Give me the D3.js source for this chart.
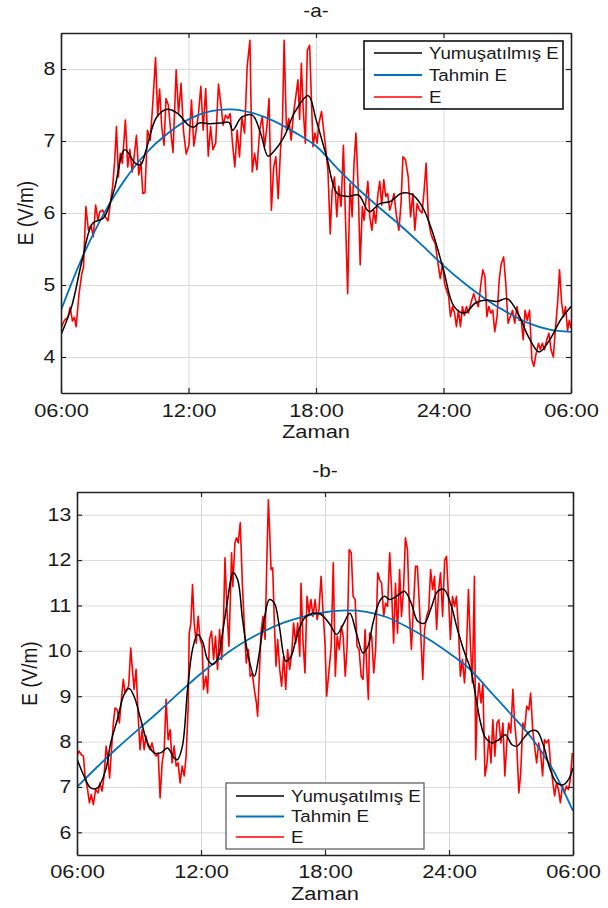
<!DOCTYPE html>
<html>
<head>
<meta charset="utf-8">
<script src="https://cdn.jsdelivr.net/npm/d3@7"></script>
<style>
  body { margin: 0; background: #fff; }
  text { font-family: Arial, "Liberation Sans", sans-serif; fill: #1a1a1a; }
</style>
</head>
<body>
<script>
// zaman ekseni (saat, 06:00 -> ertesi gün 06:00)
const xTicks = [6, 12, 18, 24, 30];
const xTickLabels = ["06:00", "12:00", "18:00", "24:00", "06:00"];
const yTicksA = [4, 5, 6, 7, 8];
const yTicksB = [6, 7, 8, 9, 10, 11, 12, 13];
const legendLabels = ["Yumuşatılmış E", "Tahmin E", "E"];
const seriesColors = ["#000000", "#0072bd", "#ff0000"];

// -a- ölçülen E [saat, V/m]
const redA = [
  [6.00,4.40],[6.16,4.51],[6.32,4.55],[6.43,4.69],[6.54,4.50],[6.63,4.55],[6.71,4.42],[6.85,4.88],[6.98,5.16],[7.06,5.25],
  [7.17,6.09],[7.29,5.76],[7.41,5.83],[7.52,5.67],[7.63,6.11],[7.74,5.90],[7.83,6.02],[7.96,6.04],[8.08,5.95],[8.21,5.89],
  [8.32,6.13],[8.43,6.37],[8.53,6.74],[8.61,7.20],[8.70,6.50],[8.79,6.83],[8.89,6.69],[9.03,7.29],[9.14,6.64],[9.24,6.88],
  [9.35,6.57],[9.44,6.78],[9.55,7.08],[9.66,6.53],[9.76,6.71],[9.85,6.27],[9.95,6.28],[10.07,7.15],[10.20,7.01],[10.31,7.48],
  [10.45,8.16],[10.55,7.34],[10.64,7.72],[10.74,7.20],[10.85,6.94],[10.94,7.59],[11.05,7.50],[11.16,7.15],[11.27,6.84],[11.42,7.99],
  [11.53,7.38],[11.65,7.80],[11.76,7.15],[11.89,6.82],[12.02,6.94],[12.14,7.57],[12.25,6.93],[12.36,7.15],[12.47,7.38],[12.58,7.76],
  [12.69,7.15],[12.81,7.73],[12.93,6.79],[13.04,7.20],[13.15,6.88],[13.28,6.97],[13.41,7.79],[13.52,7.52],[13.63,7.22],[13.74,7.36],
  [13.85,7.31],[13.96,7.38],[14.07,6.97],[14.18,6.64],[14.29,7.15],[14.40,6.78],[14.51,7.33],[14.64,7.11],[14.76,8.03],[14.89,8.40],
  [15.00,6.57],[15.11,6.83],[15.22,6.60],[15.35,7.15],[15.47,7.34],[15.58,6.92],[15.69,7.20],[15.79,7.59],[15.90,6.04],[16.01,6.64],
  [16.11,6.78],[16.22,6.20],[16.33,6.88],[16.42,7.25],[16.50,8.40],[16.61,7.15],[16.72,7.31],[16.83,7.01],[16.94,7.38],[17.05,7.62],
  [17.15,7.85],[17.23,7.30],[17.31,8.08],[17.40,7.43],[17.50,6.97],[17.59,8.26],[17.70,8.33],[17.78,7.62],[17.86,6.92],[17.95,7.11],
  [18.05,6.97],[18.14,7.25],[18.26,7.41],[18.36,7.15],[18.45,6.92],[18.56,6.60],[18.67,5.71],[18.76,6.32],[18.87,6.50],[18.98,5.95],
  [19.07,6.37],[19.18,6.09],[19.29,6.94],[19.38,6.00],[19.49,4.88],[19.60,6.41],[19.70,5.95],[19.79,6.69],[19.88,7.11],[19.99,6.32],
  [20.08,5.28],[20.18,6.09],[20.26,5.90],[20.35,6.18],[20.44,6.44],[20.53,5.95],[20.63,5.76],[20.72,6.04],[20.81,5.86],[20.91,6.25],
  [21.00,6.44],[21.09,6.11],[21.19,6.46],[21.28,6.23],[21.37,6.27],[21.47,6.04],[21.56,6.13],[21.67,6.27],[21.78,5.97],[21.90,5.76],
  [22.00,6.13],[22.09,6.78],[22.21,6.74],[22.34,6.50],[22.45,5.95],[22.56,6.27],[22.65,5.76],[22.76,6.13],[22.87,6.04],[22.99,6.00],
  [23.09,6.32],[23.18,6.69],[23.29,5.90],[23.40,5.72],[23.51,5.63],[23.61,5.58],[23.74,5.30],[23.85,5.09],[23.96,5.30],[24.05,5.02],
  [24.14,4.93],[24.24,4.84],[24.33,4.56],[24.42,4.70],[24.52,4.61],[24.61,4.42],[24.70,4.65],[24.80,4.42],[24.89,4.70],[24.98,4.58],
  [25.08,4.70],[25.17,4.61],[25.29,4.75],[25.42,4.88],[25.51,4.79],[25.64,4.70],[25.76,5.02],[25.85,5.21],[25.95,5.12],[26.04,4.56],
  [26.13,4.70],[26.23,4.61],[26.32,4.65],[26.41,4.35],[26.52,4.56],[26.62,5.07],[26.72,5.30],[26.83,5.39],[26.93,5.02],[27.04,4.47],
  [27.14,4.56],[27.25,4.65],[27.35,4.47],[27.46,4.70],[27.56,4.51],[27.66,4.51],[27.75,4.24],[27.84,4.65],[27.94,4.51],[28.05,4.65],
  [28.16,3.96],[28.25,3.87],[28.36,4.05],[28.47,4.19],[28.56,4.10],[28.65,4.19],[28.75,4.10],[28.86,4.24],[28.96,4.33],[29.06,4.10],
  [29.17,4.00],[29.26,4.37],[29.37,4.75],[29.46,5.21],[29.56,4.75],[29.65,4.56],[29.74,4.70],[29.84,4.37],[29.92,4.51],[30.00,4.40]
];
// -a- yumuşatılmış E
const blackA = [
  [6,4.31],[6.5,4.70],[7,5.35],[7.5,5.86],[8,5.93],[8.5,6.32],[9,6.88],[9.5,6.69],[9.75,6.67],[10,6.87],
  [10.5,7.33],[11,7.44],[11.5,7.38],[12,7.22],[12.25,7.19],[12.5,7.25],[13,7.24],[13.5,7.25],[13.9,7.26],[14.08,7.15],
  [14.5,7.33],[15,7.36],[15.4,7.10],[15.74,6.79],[16,6.85],[16.5,7.06],[17,7.40],[17.64,7.63],[18,7.30],[18.5,6.78],
  [19,6.27],[19.5,6.23],[20,6.25],[20.5,6.02],[21,6.13],[21.5,6.16],[22,6.27],[22.5,6.26],[23,6.09],[23.5,5.72],
  [24,5.21],[24.5,4.70],[25,4.61],[25.5,4.75],[26,4.79],[26.5,4.77],[27,4.81],[27.5,4.61],[28,4.28],[28.5,4.07],
  [29,4.24],[29.5,4.51],[30,4.70]
];
// -a- tahmin E
const blueA = [
  [6,4.65],[7,5.38],[8,5.98],[9,6.46],[10,6.83],[11,7.10],[12,7.30],[13,7.41],[14,7.44],[15,7.39],
  [16,7.28],[17,7.12],[18,6.93],[19,6.62],[20,6.33],[21,6.07],[22,5.82],[23,5.55],[24,5.27],[25,5.02],
  [26,4.80],[27,4.62],[28,4.47],[29,4.38],[30,4.35]
];

// -b- ölçülen E
const redB = [
  [6.00,7.68],[6.10,7.79],[6.21,7.71],[6.31,7.68],[6.39,7.24],[6.50,6.98],[6.60,6.65],[6.69,6.83],[6.79,6.61],[6.90,6.94],
  [7.02,6.87],[7.11,7.09],[7.21,6.91],[7.31,7.24],[7.41,7.90],[7.50,7.60],[7.58,7.20],[7.68,7.90],[7.76,8.41],[7.84,8.74],
  [7.95,8.70],[8.05,8.41],[8.15,8.93],[8.24,9.37],[8.33,9.07],[8.41,9.15],[8.50,9.22],[8.60,10.06],[8.68,9.59],[8.76,9.15],
  [8.86,9.59],[8.96,8.56],[9.05,7.82],[9.15,8.26],[9.25,7.82],[9.34,8.12],[9.44,7.90],[9.54,7.82],[9.63,7.97],[9.73,7.75],
  [9.83,7.68],[9.93,7.75],[10.02,6.76],[10.12,7.53],[10.22,7.82],[10.31,8.93],[10.41,8.04],[10.51,8.26],[10.60,7.53],[10.70,7.90],
  [10.80,7.46],[10.89,7.53],[10.99,7.09],[11.09,7.46],[11.19,7.24],[11.28,7.68],[11.38,8.78],[11.43,10.39],[11.51,10.61],[11.59,11.46],
  [11.67,10.61],[11.77,10.17],[11.86,10.76],[11.96,10.25],[12.06,10.10],[12.12,9.15],[12.24,9.44],[12.32,9.07],[12.41,10.25],[12.51,10.43],
  [12.61,9.81],[12.70,10.32],[12.80,9.59],[12.90,10.47],[13.00,9.81],[13.09,10.69],[13.16,12.05],[13.25,10.98],[13.35,10.10],[13.42,11.13],
  [13.48,12.16],[13.54,11.42],[13.64,12.38],[13.72,12.49],[13.80,12.38],[13.90,12.82],[14.00,11.49],[14.09,10.61],[14.19,9.73],[14.29,10.03],
  [14.38,9.44],[14.48,9.51],[14.58,9.15],[14.68,8.85],[14.74,8.56],[14.82,9.44],[14.90,10.39],[15.00,10.76],[15.10,10.25],[15.19,12.08],
  [15.26,13.33],[15.32,12.67],[15.39,11.79],[15.47,11.83],[15.55,10.61],[15.63,9.66],[15.71,10.25],[15.81,9.59],[15.90,9.22],[16.00,9.88],
  [16.10,9.15],[16.19,10.03],[16.29,9.59],[16.39,9.95],[16.48,10.61],[16.58,10.17],[16.68,10.61],[16.78,9.88],[16.84,11.49],[16.94,10.17],
  [17.03,9.51],[17.13,11.20],[17.23,10.83],[17.32,11.13],[17.42,10.76],[17.52,11.13],[17.62,10.69],[17.71,10.91],[17.81,11.64],[17.91,10.83],
  [18.00,10.17],[18.08,9.00],[18.30,10.10],[18.40,11.94],[18.50,9.44],[18.59,10.32],[18.69,10.03],[18.79,10.54],[18.88,10.32],[18.98,9.44],
  [19.07,10.10],[19.17,12.23],[19.27,12.16],[19.36,11.20],[19.46,11.13],[19.55,10.10],[19.65,10.03],[19.75,9.44],[19.84,9.37],[19.94,10.47],
  [20.04,9.44],[20.10,8.93],[20.16,10.39],[20.26,10.32],[20.36,9.51],[20.45,10.03],[20.55,11.72],[20.64,11.57],[20.74,11.49],[20.84,10.76],
  [20.93,11.05],[21.03,10.98],[21.13,12.16],[21.22,11.35],[21.32,10.17],[21.41,11.49],[21.51,10.39],[21.61,11.79],[21.70,10.76],[21.80,11.35],
  [21.89,12.49],[21.99,12.23],[22.09,10.76],[22.18,10.03],[22.28,10.98],[22.38,11.86],[22.47,11.86],[22.57,10.98],[22.66,10.10],[22.73,9.37],
  [22.82,10.47],[22.92,10.76],[23.02,10.91],[23.11,11.79],[23.21,11.35],[23.30,11.64],[23.40,10.47],[23.50,11.35],[23.59,11.72],[23.69,10.76],
  [23.79,12.00],[23.88,12.08],[23.98,11.13],[24.07,10.25],[24.17,11.20],[24.27,10.98],[24.36,11.20],[24.46,10.47],[24.55,9.44],[24.65,9.81],
  [24.75,9.29],[24.84,9.95],[24.94,11.35],[25.04,10.10],[25.13,9.29],[25.23,11.64],[25.29,7.60],[25.37,8.85],[25.45,9.29],[25.55,8.85],
  [25.64,9.29],[25.74,7.24],[25.84,7.53],[25.93,8.12],[26.03,7.53],[26.12,8.48],[26.22,7.68],[26.32,8.41],[26.41,8.48],[26.51,7.97],
  [26.61,8.41],[26.70,7.24],[26.80,7.97],[26.89,8.41],[26.99,8.19],[27.09,9.15],[27.18,8.41],[27.28,7.90],[27.38,6.87],[27.47,7.31],
  [27.57,8.41],[27.66,8.26],[27.76,8.78],[27.86,8.70],[27.95,9.07],[28.05,8.26],[28.14,7.90],[28.24,7.53],[28.34,7.97],[28.43,7.75],
  [28.53,7.24],[28.62,8.04],[28.72,7.97],[28.82,8.04],[28.91,7.53],[29.01,7.16],[29.11,6.80],[29.20,7.09],[29.30,6.94],[29.39,6.65],
  [29.49,7.02],[29.59,6.87],[29.68,7.02],[29.78,6.94],[29.87,7.16],[29.97,7.75]
];
// -b- yumuşatılmış E
const blackB = [
  [6,7.62],[6.34,7.24],[6.66,6.98],[6.99,6.98],[7.39,7.38],[7.63,7.97],[7.95,8.48],[8.28,9.04],[8.52,9.17],[8.76,9.00],
  [9.09,8.48],[9.41,7.97],[9.73,7.75],[10.05,7.75],[10.38,7.86],[10.70,7.64],[10.86,7.60],[11.10,7.90],[11.35,9.15],[11.59,10.03],
  [11.83,10.36],[12.07,10.21],[12.32,9.81],[12.56,9.70],[12.80,9.81],[13.04,10.39],[13.29,11.13],[13.55,11.72],[13.77,11.57],[14.01,10.69],
  [14.26,9.95],[14.58,9.44],[14.82,9.95],[15.06,10.69],[15.31,11.13],[15.55,11.05],[15.79,10.54],[16.11,9.77],[16.36,9.88],[16.60,10.25],
  [17.00,10.72],[17.41,10.83],[17.81,10.80],[18.24,10.58],[18.56,10.36],[18.88,10.58],[19.20,10.83],[19.52,10.39],[19.84,9.95],[20.08,10.10],
  [20.32,10.61],[20.64,11.09],[20.88,11.20],[21.13,11.13],[21.45,11.20],[21.85,11.31],[22.17,11.05],[22.49,10.65],[22.81,10.61],[23.13,10.94],
  [23.45,11.31],[23.77,11.35],[24.09,11.02],[24.41,10.47],[24.73,9.99],[25.05,9.59],[25.29,9.00],[25.53,8.41],[25.77,8.08],[26.09,7.97],
  [26.41,8.04],[26.73,8.15],[27.05,7.93],[27.29,7.90],[27.62,8.08],[27.94,8.23],[28.26,8.23],[28.58,7.90],[28.90,7.38],[29.22,7.09],
  [29.54,7.05],[29.78,7.16],[30,7.42]
];
// -b- tahmin E
const blueB = [
  [6,7.00],[7,7.45],[8,7.88],[9,8.28],[10,8.68],[11,9.10],[12,9.50],[13,9.86],[14,10.17],[15,10.42],
  [16,10.62],[17,10.76],[18,10.85],[19,10.89],[20,10.86],[21,10.74],[22,10.52],[23,10.26],[24,9.95],[25,9.60],
  [26,9.10],[27,8.60],[28,8.08],[29,7.40],[30,6.47]
];

const W = 608, H = 908;
const SX = 1.15; // resimdeki yazılar yatayda biraz gergin

const svg = d3.select("body")
    .append("svg")
    .attr("width", W)
    .attr("height", H);

function drawPanel(p) {
    const x = d3.scaleLinear().domain([6, 30]).range([p.left, p.right]);
    const y = d3.scaleLinear().domain(p.yDomain).range([p.bottom, p.top]);
    const g = svg.append("g");
    const h = p.bottom - p.top, w = p.right - p.left;

    // ızgara
    g.append("g")
        .attr("transform", `translate(0,${p.bottom})`)
        .call(d3.axisBottom(x).tickValues(xTicks).tickSize(-h).tickFormat(""))
        .call(a => a.select(".domain").remove())
        .selectAll("line").attr("stroke", "#dadada");
    g.append("g")
        .attr("transform", `translate(${p.left},0)`)
        .call(d3.axisLeft(y).tickValues(p.yTicks).tickSize(-w).tickFormat(""))
        .call(a => a.select(".domain").remove())
        .selectAll("line").attr("stroke", "#dadada");

    // çizgiler
    g.append("clipPath").attr("id", "clip" + p.id)
        .append("rect").attr("x", p.left).attr("y", p.top).attr("width", w).attr("height", h);
    const plot = g.append("g").attr("clip-path", `url(#clip${p.id})`);
    const line = d3.line().x(d => x(d[0])).y(d => y(d[1]));
    const smooth = d3.line().x(d => x(d[0])).y(d => y(d[1])).curve(d3.curveCatmullRom.alpha(0.5));

    plot.append("path").datum(p.red).attr("d", line)
        .attr("fill", "none").attr("stroke", seriesColors[2]).attr("stroke-width", 1.6).attr("stroke-linejoin", "round");
    plot.append("path").datum(p.blue).attr("d", smooth)
        .attr("fill", "none").attr("stroke", seriesColors[1]).attr("stroke-width", 1.8);
    plot.append("path").datum(p.black).attr("d", smooth)
        .attr("fill", "none").attr("stroke", seriesColors[0]).attr("stroke-width", 1.5);

    // eksenler (içe dönük çentikler)
    const styleAxis = a => {
        a.select(".domain").attr("stroke", "#222").attr("stroke-width", 1.6);
        a.selectAll(".tick line").attr("stroke", "#222").attr("stroke-width", 1.2);
    };
    g.append("g").attr("transform", `translate(0,${p.bottom})`)
        .call(d3.axisBottom(x).tickValues(xTicks).tickSize(-5).tickSizeOuter(0)
            .tickFormat((d, i) => xTickLabels[i]))
        .call(styleAxis)
        .call(a => a.selectAll("text")
            .attr("y", p.xLabelDy).attr("dy", null)
            .attr("font-size", 19).attr("fill", "#1a1a1a")
            .attr("transform", `scale(${SX},1)`));
    g.append("g").attr("transform", `translate(0,${p.top})`)
        .call(d3.axisTop(x).tickValues(xTicks).tickSize(-5).tickSizeOuter(0).tickFormat(""))
        .call(styleAxis);
    g.append("g").attr("transform", `translate(${p.left},0)`)
        .call(d3.axisLeft(y).tickValues(p.yTicks).tickSize(-5).tickSizeOuter(0).tickPadding(5)
            .tickFormat(d3.format("d")))
        .call(styleAxis)
        .call(a => a.selectAll("text")
            .attr("font-size", 18.5).attr("fill", "#1a1a1a")
            .attr("transform", `scale(${SX},1)`));
    g.append("g").attr("transform", `translate(${p.right},0)`)
        .call(d3.axisRight(y).tickValues(p.yTicks).tickSize(-5).tickSizeOuter(0).tickFormat(""))
        .call(styleAxis);

    // başlık ve eksen adları
    const cx = (p.left + p.right) / 2;
    g.append("text").attr("transform", `translate(${cx},${p.top - p.titleGap}) scale(${SX},1)`)
        .attr("text-anchor", "middle").attr("font-size", 18).text(p.title);
    g.append("text").attr("transform", `translate(${cx},${p.bottom + p.xTitleDy}) scale(${SX},1)`)
        .attr("text-anchor", "middle").attr("font-size", 19).text("Zaman");
    g.append("text").attr("transform", `translate(${p.yTitleX},${(p.top + p.bottom) / 2}) scale(${SX},1) rotate(-90)`)
        .attr("text-anchor", "middle").attr("font-size", 19).text("E (V/m)");

    // lejant
    const L = p.legend;
    const lg = g.append("g").attr("transform", `translate(${L.x},${L.y})`);
    lg.append("rect").attr("width", L.w).attr("height", L.h)
        .attr("fill", "#fff").attr("stroke", L.stroke).attr("stroke-width", L.sw);
    legendLabels.forEach((lab, i) => {
        const ry = L.row0 + i * L.rowH;
        lg.append("line").attr("x1", 10).attr("x2", 58).attr("y1", ry).attr("y2", ry)
            .attr("stroke", seriesColors[i]).attr("stroke-width", i === 1 ? 1.8 : 1.6);
        lg.append("text").attr("transform", `translate(65,${ry}) scale(1.1,1)`)
            .attr("dy", "0.35em").attr("font-size", 17).text(lab);
    });
}

drawPanel({
    id: "a", title: "-a-", left: 61, right: 571, top: 33, bottom: 393,
    yDomain: [3.5, 8.5], yTicks: yTicksA, red: redA, black: blackA, blue: blueA,
    xLabelDy: 24, xTitleDy: 45, titleGap: 16, yTitleX: 33,
    legend: { x: 364, y: 41, w: 199, h: 68, row0: 12, rowH: 22, stroke: "#111", sw: 1.6 }
});
drawPanel({
    id: "b", title: "-b-", left: 77, right: 573, top: 492, bottom: 855,
    yDomain: [5.5, 13.5], yTicks: yTicksB, red: redB, black: blackB, blue: blueB,
    xLabelDy: 23, xTitleDy: 45, titleGap: 15, yTitleX: 37,
    legend: { x: 226, y: 783, w: 198, h: 66, row0: 13, rowH: 20.5, stroke: "#555", sw: 1.2 }
});
</script>
</body>
</html>
